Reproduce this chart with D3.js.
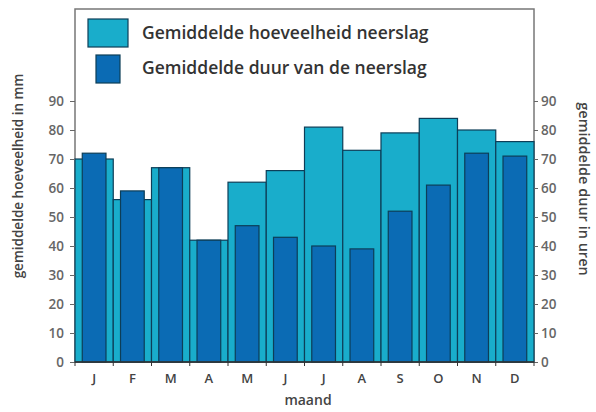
<!DOCTYPE html>
<html><head><meta charset="utf-8">
<script src="https://cdn.jsdelivr.net/npm/d3@7"></script>
<style>body{margin:0;background:#fff}svg{display:block}</style>
</head><body>
<svg id="c" width="596" height="412"></svg>
<script>
const months = ["J","F","M","A","M","J","J","A","S","O","N","D"];
const neerslag = [70,56,67,42,62,66,81,73,79,84,80,76];
const duur = [72,59,67,42,47,43,40,39,52,61,72,71];
const yTicks = [0,10,20,30,40,50,60,70,80,90];
const legendLabels = ["Gemiddelde hoeveelheid neerslag","Gemiddelde duur van de neerslag"];

const W=596,H=412;
const m={l:75,r:62,t:101,b:50};
const svg=d3.select("#c");
const font="'Open Sans', sans-serif";
const light="#19adcb", dark="#0b6bb4", stroke="#0d3e58", txt="#444", tick="#666";

const x=d3.scaleBand().domain(d3.range(12)).range([m.l,W-m.r]).padding(0);
const y=d3.scaleLinear().domain([0,90]).range([362,101]);

// frame
svg.append("rect").attr("x",m.l).attr("y",9).attr("width",W-m.r-m.l).attr("height",362-9)
  .attr("fill","none").attr("stroke","#777").attr("stroke-width",1.5);

svg.append("g").selectAll("rect").data(neerslag).join("rect")
  .attr("x",(d,i)=>x(i)).attr("width",x.bandwidth()).attr("y",d=>y(d)).attr("height",d=>y(0)-y(d))
  .attr("fill",light).attr("stroke",stroke).attr("stroke-width",1.2);

const dw=x.bandwidth()*0.62;
svg.append("g").selectAll("rect").data(duur).join("rect")
  .attr("x",(d,i)=>x(i)+(x.bandwidth()-dw)/2).attr("width",dw).attr("y",d=>y(d)).attr("height",d=>y(0)-y(d))
  .attr("fill",dark).attr("stroke",stroke).attr("stroke-width",1.2);

// axes
const yl=svg.append("g").attr("transform",`translate(${m.l},0)`)
  .call(d3.axisLeft(y).tickValues(yTicks).tickSize(5).tickPadding(6));
const yr=svg.append("g").attr("transform",`translate(${W-m.r},0)`)
  .call(d3.axisRight(y).tickValues(yTicks).tickSize(4).tickPadding(3));
[yl,yr].forEach(g=>{g.select(".domain").remove();
  g.selectAll("line").attr("stroke","#666");
  g.selectAll("text").attr("font-family",font).attr("font-size",13.5).attr("fill",tick).attr("font-weight",600);});

const xb=svg.append("g").attr("transform",`translate(0,362)`);
xb.append("line").attr("x1",m.l).attr("x2",W-m.r).attr("y1",0).attr("y2",0).attr("stroke","#333").attr("stroke-width",1.5);
xb.selectAll("line.t").data(d3.range(13)).join("line").attr("class","t")
  .attr("x1",i=>m.l+i*x.bandwidth()).attr("x2",i=>m.l+i*x.bandwidth()).attr("y1",0).attr("y2",4).attr("stroke","#333");
xb.selectAll("text").data(months).join("text")
  .attr("x",(d,i)=>x(i)+x.bandwidth()/2).attr("y",21).attr("text-anchor","middle")
  .attr("font-family",font).attr("font-size",13).attr("font-weight",600).attr("fill",txt).text(d=>d);

svg.append("text").attr("x",308).attr("y",405).attr("text-anchor","middle")
  .attr("font-family",font).attr("font-size",14).attr("font-weight",600).attr("fill",txt).text("maand");

svg.append("text").attr("transform","translate(23,176) rotate(-90)").attr("text-anchor","middle")
  .attr("font-family",font).attr("font-size",13.5).attr("font-weight",600).attr("fill",txt).text("gemiddelde hoeveelheid in mm");
svg.append("text").attr("transform","translate(579,189) rotate(90)").attr("text-anchor","middle")
  .attr("font-family",font).attr("font-size",14.5).attr("font-weight",600).attr("fill",txt).text("gemiddelde duur in uren");

// legend
const lg=svg.append("g");
lg.append("rect").attr("x",88).attr("y",19).attr("width",40).attr("height",28).attr("fill",light).attr("stroke",stroke).attr("stroke-width",1.2);
lg.append("rect").attr("x",96).attr("y",55).attr("width",24).attr("height",28).attr("fill",dark).attr("stroke",stroke).attr("stroke-width",1.2);
lg.selectAll("text").data(legendLabels).join("text")
  .attr("x",142).attr("y",(d,i)=>39+i*35)
  .attr("font-family",font).attr("font-size",17.5).attr("font-weight",600).attr("fill","#333").text(d=>d);
</script>
</body></html>
